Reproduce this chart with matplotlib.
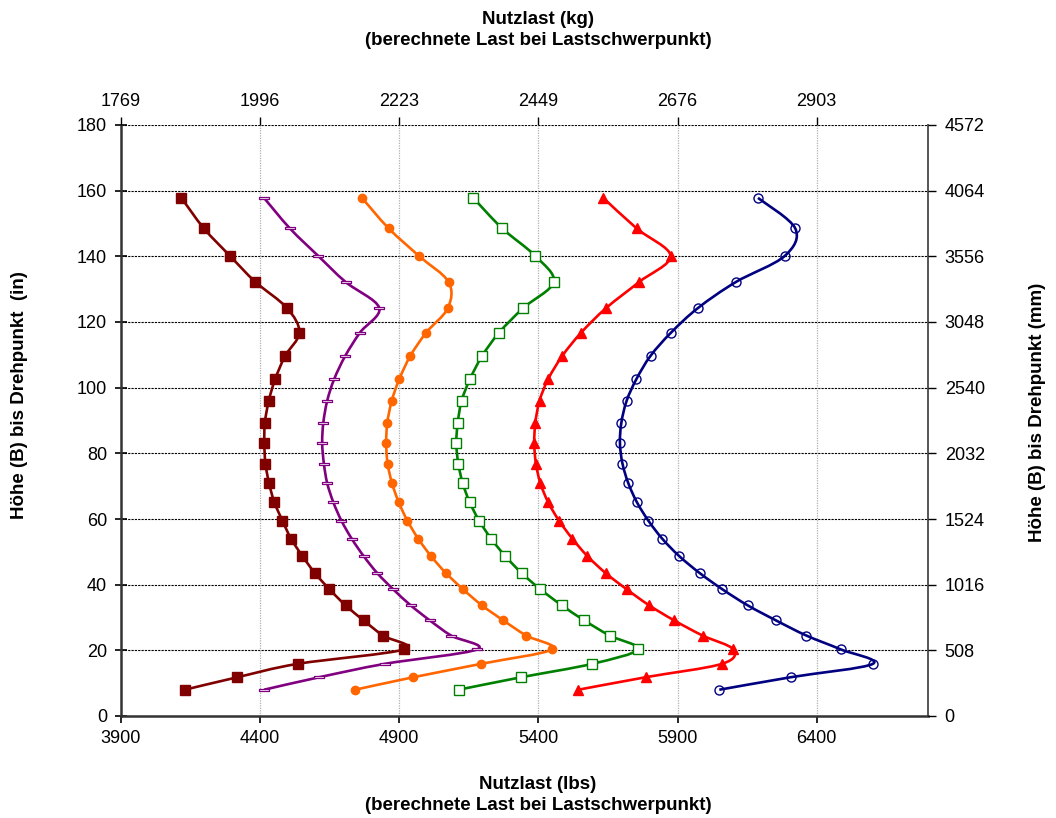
import numpy as np
import matplotlib.pyplot as plt
from matplotlib.path import Path
from matplotlib.patches import PathPatch

plt.rcParams['font.family'] = ['Liberation Sans', 'DejaVu Sans']

# heights (in), shared by all curves
heights = [8.0, 11.8, 15.9, 20.3, 24.5, 29.1, 33.7, 38.6, 43.5, 48.7, 54.0, 59.5, 65.1,
           70.9, 76.9, 83.1, 89.3, 96.0, 102.6, 109.7, 116.8, 124.3, 132.2, 140.1, 148.5, 157.8]

load_darkred = [4129, 4318, 4536, 4918, 4841, 4772, 4707, 4649, 4597, 4552, 4511, 4480, 4451,
                4432, 4419, 4415, 4417, 4431, 4454, 4490, 4541, 4496, 4383, 4292, 4198, 4117]
load_purple = [4414, 4612, 4849, 5180, 5086, 5010, 4941, 4878, 4821, 4772, 4729, 4692, 4663,
               4641, 4629, 4623, 4627, 4641, 4666, 4706, 4759, 4828, 4707, 4609, 4507, 4414]
load_orange = [4741, 4950, 5195, 5449, 5356, 5274, 5197, 5129, 5068, 5014, 4968, 4929, 4898,
               4874, 4858, 4853, 4857, 4873, 4900, 4940, 4997, 5075, 5077, 4971, 4862, 4766]
load_green = [5113, 5338, 5594, 5758, 5656, 5565, 5484, 5407, 5340, 5281, 5230, 5187, 5153,
              5128, 5112, 5105, 5110, 5124, 5154, 5198, 5259, 5346, 5455, 5389, 5270, 5166]
load_red = [5543, 5785, 6060, 6100, 5990, 5888, 5798, 5717, 5642, 5576, 5522, 5474, 5435,
            5407, 5391, 5385, 5389, 5404, 5435, 5486, 5554, 5644, 5762, 5875, 5753, 5633]
load_blue = [6050, 6306, 6602, 6486, 6363, 6254, 6152, 6061, 5980, 5906, 5845, 5795, 5754,
             5723, 5702, 5693, 5698, 5717, 5752, 5803, 5877, 5974, 6110, 6285, 6323, 6189]

lbs_ticks = [3900, 4400, 4900, 5400, 5900, 6400]
kg_labels = ["1769", "1996", "2223", "2449", "2676", "2903"]
in_ticks = [0, 20, 40, 60, 80, 100, 120, 140, 160, 180]
mm_labels = ["0", "508", "1016", "1524", "2032", "2540", "3048", "3556", "4064", "4572"]

dash = [(-1, -0.3), (1, -0.3), (1, 0.3), (-1, 0.3), (-1, -0.3)]
series = [
    (load_darkred, "#800000", dict(marker="s", ms=6.5, mfc="#800000", mec="#800000")),
    (load_purple, "#800080", dict(marker=dash, ms=7, mfc="white", mec="#800080", mew=0.9)),
    (load_orange, "#FF6600", dict(marker="o", ms=6, mfc="#FF6600", mec="#FF6600")),
    (load_green, "#008000", dict(marker="s", ms=6.5, mfc="white", mec="#008000", mew=1.0)),
    (load_red, "#FF0000", dict(marker="^", ms=7, mfc="#FF0000", mec="#FF0000")),
    (load_blue, "#000080", dict(marker="o", ms=6.5, mfc="none", mec="#000080", mew=1.0)),
]


def smooth_path(xs, ys):
    # Catmull-Rom style bezier, like a spreadsheet "smoothed line"
    p = np.column_stack([xs, ys]).astype(float)
    verts = [p[0]]
    codes = [Path.MOVETO]
    n = len(p)
    for i in range(n - 1):
        p0 = p[i - 1] if i > 0 else p[i]
        p3 = p[i + 2] if i + 2 < n else p[i + 1]
        c1 = p[i] + (p[i + 1] - p0) / 6.0
        c2 = p[i + 1] - (p3 - p[i]) / 6.0
        verts += [c1, c2, p[i + 1]]
        codes += [Path.CURVE4] * 3
    return Path(verts, codes)


fig = plt.figure(figsize=(10.56, 8.18), dpi=100)
ax = fig.add_axes([121 / 1056, 1 - 716 / 818, (928 - 121) / 1056, (716 - 125) / 818])

for xs, color, mk in series:
    ax.add_patch(PathPatch(smooth_path(xs, heights), facecolor="none", edgecolor=color,
                           lw=1.9, zorder=3))
    ax.plot(xs, heights, linestyle="none", zorder=4, **mk)

ax.set_xlim(3900, 6800)
ax.set_ylim(0, 180)
ax.set_xticks(lbs_ticks)
ax.set_yticks(in_ticks)
ax.tick_params(axis="x", direction="out", length=5, width=1.2, labelsize=13, pad=5)
ax.tick_params(axis="y", direction="inout", length=8, width=1.2, labelsize=13, pad=6)

for y in in_ticks[1:]:
    ax.axhline(y, color="black", lw=0.8, ls=(0, (2, 1)), zorder=1)
for x in lbs_ticks[1:]:
    ax.axvline(x, color="#b0b0b0", lw=0.9, ls=(0, (1, 1)), zorder=1)

ax.spines["top"].set_visible(False)
ax.spines["left"].set_color("#333333")
ax.spines["left"].set_linewidth(1.8)
ax.spines["bottom"].set_color("#333333")
ax.spines["bottom"].set_linewidth(1.8)
ax.spines["right"].set_color("#555555")
ax.spines["right"].set_linewidth(1.4)

axr = ax.twinx()
axr.set_ylim(ax.get_ylim())
axr.set_yticks(in_ticks)
axr.set_yticklabels(mm_labels)
axr.tick_params(axis="y", direction="out", length=6, width=1.0, labelsize=13, pad=6)
for s in axr.spines.values():
    s.set_visible(False)

axt = ax.twiny()
axt.set_xlim(ax.get_xlim())
axt.set_xticks(lbs_ticks)
axt.set_xticklabels(kg_labels)
axt.tick_params(axis="x", direction="out", length=6, width=1.0, labelsize=13, pad=5)
for s in axt.spines.values():
    s.set_visible(False)

fig.text(538 / 1056, 1 - 30 / 818, "Nutzlast (kg)\n(berechnete Last bei Lastschwerpunkt)",
         ha="center", va="center", fontsize=13.5, fontweight="bold", linespacing=1.25)
fig.text(538 / 1056, 1 - 795 / 818, "Nutzlast (lbs)\n(berechnete Last bei Lastschwerpunkt)",
         ha="center", va="center", fontsize=13.5, fontweight="bold", linespacing=1.25)
fig.text(20 / 1056, 1 - 395 / 818, "Höhe (B) bis Drehpunkt  (in)", rotation=90,
         ha="center", va="center", fontsize=13.5, fontweight="bold")
fig.text(1038 / 1056, 1 - 412 / 818, "Höhe (B) bis Drehpunkt (mm)", rotation=90,
         ha="center", va="center", fontsize=13.5, fontweight="bold")

fig.savefig("out.png", dpi=100)
